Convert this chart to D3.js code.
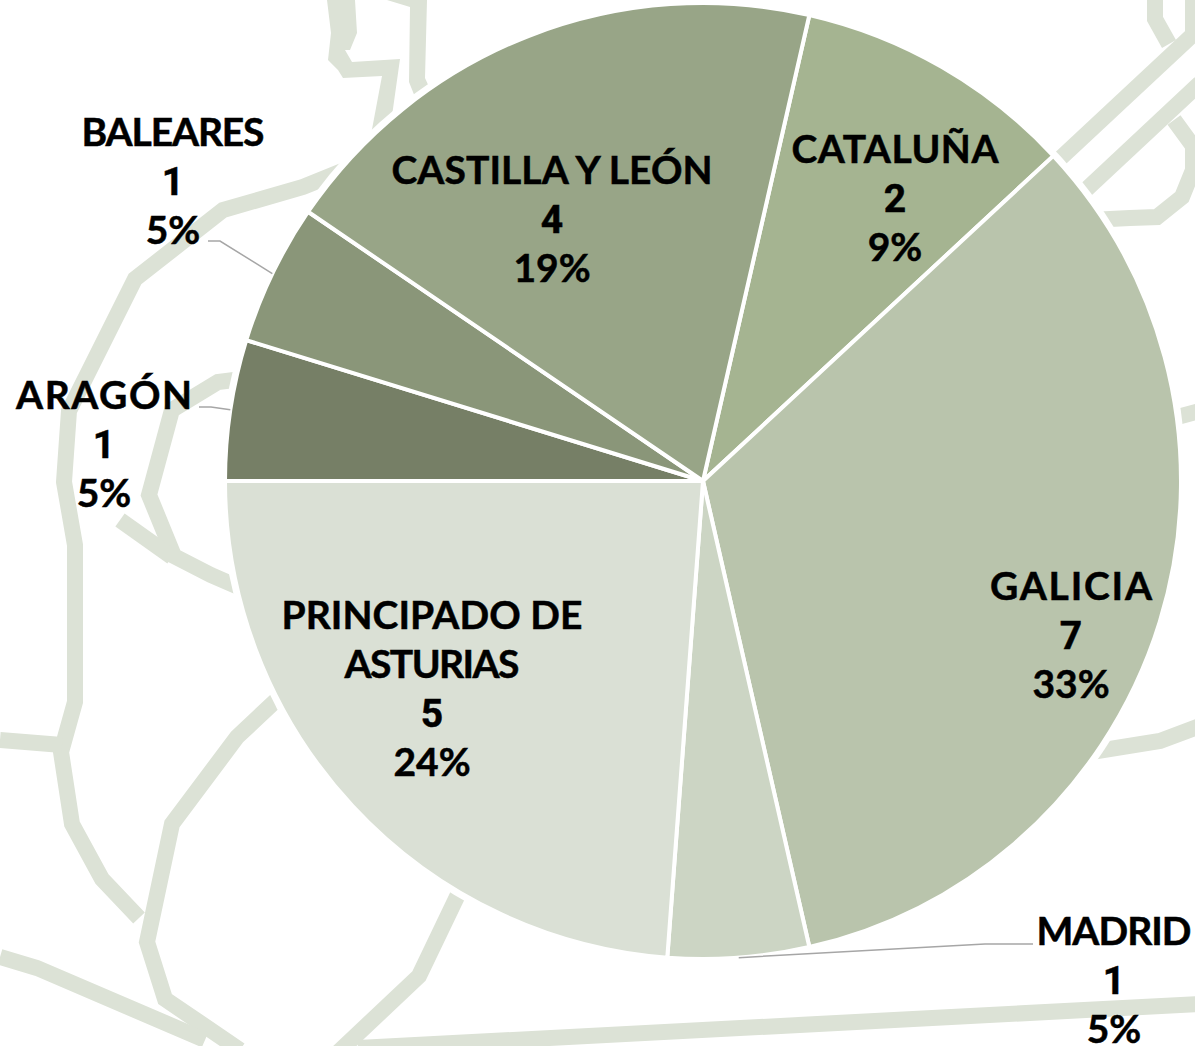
<!DOCTYPE html>
<html>
<head>
<meta charset="utf-8">
<script src="https://cdn.jsdelivr.net/npm/d3@7"></script>
<style>
  html, body { margin: 0; padding: 0; background: #fff; overflow: hidden; }
  text { font-family: "Lato", "Open Sans", sans-serif; font-weight: 700; fill: #000; stroke: #000; stroke-width: 0.5px; text-anchor: middle; }
</style>
</head>
<body>
<div id="chart"></div>
<script>
var categories = ["CATALUÑA", "GALICIA", "MADRID", "PRINCIPADO DE ASTURIAS", "ARAGÓN", "BALEARES", "CASTILLA Y LEÓN"];
var counts = [2, 7, 1, 5, 1, 1, 4];
var percents = ["9%", "33%", "5%", "24%", "5%", "5%", "19%"];
var colors = ["#a5b491", "#b9c4ac", "#ccd5c4", "#dae0d5", "#767f66", "#8a9679", "#98a587"];

// label layout, same order as categories: x, baseline of first line
var label_pos = [[895, 163], [1071, 600], [1114, 945], [432, 629], [104, 409], [173, 146], [552, 184]];
var label_lines = [["CATALUÑA"], ["GALICIA"], ["MADRID"], ["PRINCIPADO DE", "ASTURIAS"], ["ARAGÓN"], ["BALEARES"], ["CASTILLA Y LEÓN"]];
// measured width of the name rows
var label_widths = [[207], [162], [155], [301, 175], [176], [183], [321]];
// leader elbows, only outside labels
var leaders = { 2: [[1033, 944], [985, 944]], 4: [[199, 407], [211, 407]], 5: [[208, 241], [220, 241]] };

// decoration behind the pie, road map drawing
var map_lines = [
    [[345, 170], [303, 187], [223, 210], [135, 279], [69, 411], [64, 482], [75, 545], [75, 702], [61, 752], [72, 824], [102, 879], [139, 918]],
    [[0, 740], [62, 745]],
    [[250, 378], [218, 382], [172, 410], [149, 495], [174, 556], [211, 575], [250, 592]],
    [[120, 520], [172, 557]],
    [[285, 692], [237, 737], [172, 824], [147, 942], [165, 999], [240, 1050]],
    [[0, 957], [37, 968], [205, 1040]],
    [[465, 880], [419, 976], [330, 1060]],
    [[358, 1048], [1200, 1004]],
    [[1085, 753], [1160, 741], [1200, 726]],
    [[1170, 419], [1200, 411]],
    [[1050, 168], [1200, 28]],
    [[1075, 200], [1200, 83]],
    [[1155, 0], [1155, 19], [1169, 44]],
    [[1193, 0], [1193, 35]],
    [[1090, 220], [1130, 218], [1157, 217], [1182, 197], [1193, 170], [1193, 146], [1174, 120]]
];
var map_shapes = [
    [[327, 0], [331, 33], [328, 60], [338, 70], [343, 78], [382, 76], [370, 140], [390, 130], [400, 59], [352, 62], [345, 50], [350, 50], [357, 33], [355, 0]],
    [[387, 0], [410, 7], [409, 82], [415, 97], [415, 115], [435, 100], [425, 78], [427, 0]],
    [[665, 0], [682, 0], [680, 3], [668, 3]]
];

var width = 1195, height = 1046;
var cx = 703, cy = 481, radius = 478;
var line_color = "#dce2d6";

var svg = d3.select("#chart").append("svg")
    .attr("width", width)
    .attr("height", height)
    .style("display", "block");

var line = d3.line();

svg.append("g").selectAll("path")
    .data(map_lines)
    .enter().append("path")
    .attr("d", line)
    .attr("fill", "none")
    .attr("stroke", line_color)
    .attr("stroke-width", 16)
    .attr("stroke-linejoin", "miter");

svg.append("g").selectAll("path")
    .data(map_shapes)
    .enter().append("path")
    .attr("d", function (d) { return line(d) + "Z"; })
    .attr("fill", line_color);

var pie_g = svg.append("g").attr("transform", "translate(" + cx + "," + cy + ")");

// white ring that separates the pie from the map
pie_g.append("circle")
    .attr("r", radius + 5)
    .attr("fill", "#fff");

var pie = d3.pie().sort(null).startAngle(12.857 * Math.PI / 180).endAngle(372.857 * Math.PI / 180);
var arc = d3.arc().innerRadius(0).outerRadius(radius);
var arcs = pie(counts);

pie_g.selectAll("path")
    .data(arcs)
    .enter().append("path")
    .attr("d", arc)
    .attr("fill", function (d, i) { return colors[i]; })
    .attr("stroke", "#fff")
    .attr("stroke-width", 4)
    .attr("stroke-linejoin", "round");

// leader lines end on the rim of their slice
Object.keys(leaders).forEach(function (key) {
    var a = arcs[key];
    var mid = (a.startAngle + a.endAngle) / 2;
    var end = [cx + radius * Math.sin(mid), cy - radius * Math.cos(mid)];
    svg.append("path")
        .attr("d", line(leaders[key].concat([end])))
        .attr("fill", "none")
        .attr("stroke", "#a6a6a6")
        .attr("stroke-width", 1.5);
});

var label = svg.append("g").selectAll("text")
    .data(categories)
    .enter().append("text")
    .attr("font-size", 39)
    .attr("data-name", function (d) { return d; });

label.each(function (d, i) {
    var n = label_lines[i].length;
    var rows = label_lines[i].concat([String(counts[i]), percents[i]]);
    d3.select(this).selectAll("tspan")
        .data(rows)
        .enter().append("tspan")
        .attr("x", label_pos[i][0])
        .attr("y", function (r, j) { return label_pos[i][1] + j * 49; })
        .attr("textLength", function (r, j) { return j < n ? label_widths[i][j] : null; })
        .attr("lengthAdjust", "spacing")
        .style("font-family", function (r, j) { return j == n ? "Roboto" : null; })
        .text(function (r) { return r; });
});
</script>
</body>
</html>
